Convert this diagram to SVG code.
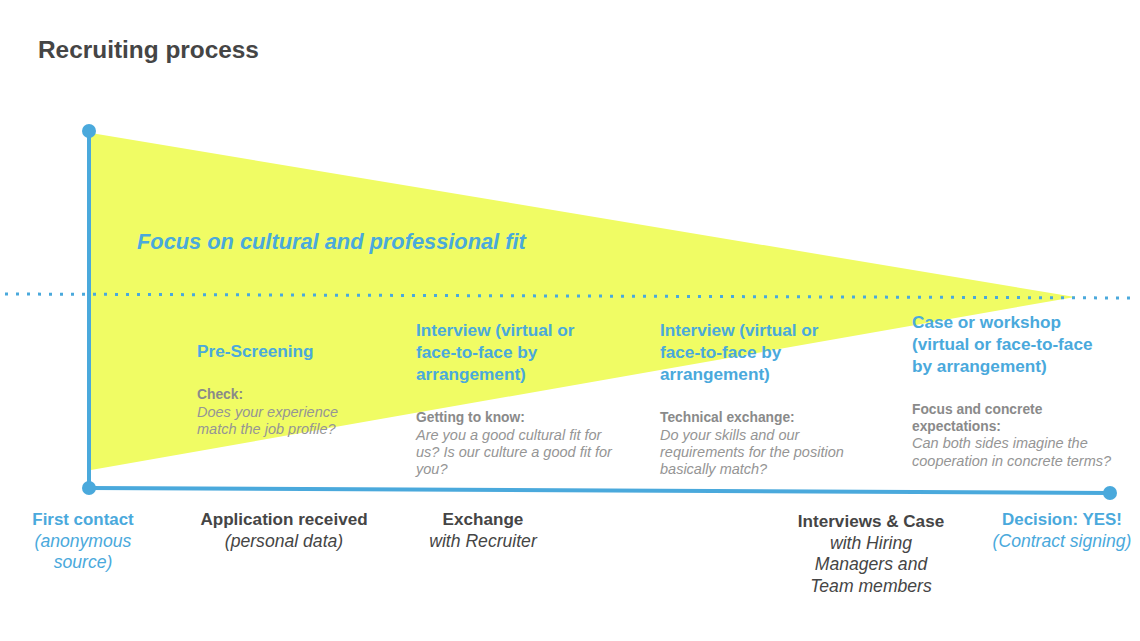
<svg xmlns="http://www.w3.org/2000/svg" width="1140" height="641" viewBox="0 0 1140 641">
<style>
text{font-family:"Liberation Sans",Arial,sans-serif}
.title{font-size:24.4px;font-weight:bold;fill:#454545}
.focus{font-size:21.8px;font-weight:bold;font-style:italic;fill:#4aa9dc}
.h{font-size:17.2px;font-weight:bold;fill:#4aa9dc}
.sb{font-size:13.8px;font-weight:bold;fill:#8a8a8a}
.si{font-size:14.5px;font-style:italic;fill:#959595}
.lb{font-size:16.9px;font-weight:bold;fill:#4aa9dc;text-anchor:middle}
.li{font-size:17.6px;font-style:italic;fill:#4aa9dc;text-anchor:middle}
.db{font-size:17.1px;font-weight:bold;fill:#454545;text-anchor:middle}
.di{font-size:17.6px;font-style:italic;fill:#454545;text-anchor:middle}
.ln{stroke:#4aa9dc;stroke-width:4;fill:none;stroke-linecap:round}
.dot{fill:#4aa9dc}
</style>
<rect width="1140" height="641" fill="#fff"/>
<text class="title" x="38" y="58">Recruiting process</text>
<polygon points="91,133 1075,297 91,470" fill="#f0fc64"/>
<g id="connectors">
<line class="ln" x1="89" y1="131" x2="89" y2="488"/>
<line class="ln" x1="89" y1="488" x2="1110" y2="493"/>
<line x1="5" y1="294" x2="1132" y2="298" stroke="#4aa9dc" stroke-width="3" stroke-dasharray="3 8"/>
</g>
<g id="n-top"><circle class="dot" cx="89" cy="131" r="7"/></g>
<g id="n-start"><circle class="dot" cx="89" cy="488" r="7"/></g>
<g id="n-end"><circle class="dot" cx="1110" cy="493" r="7"/></g>
<g id="focus"><text class="focus" x="137" y="249">Focus on cultural and professional fit</text></g>
<g id="prescreening">
<text class="h" x="197" y="357">Pre-Screening</text>
<text class="sb" x="197" y="399">Check:</text>
<text class="si" x="197" y="417">Does your experience</text>
<text class="si" x="197" y="434">match the job profile?</text>
</g>
<g id="interview1">
<text class="h" x="416" y="336">Interview (virtual or</text>
<text class="h" x="416" y="358">face-to-face by</text>
<text class="h" x="416" y="380">arrangement)</text>
<text class="sb" x="416" y="422">Getting to know:</text>
<text class="si" x="416" y="440">Are you a good cultural fit for</text>
<text class="si" x="416" y="457">us? Is our culture a good fit for</text>
<text class="si" x="416" y="474">you?</text>
</g>
<g id="interview2">
<text class="h" x="660" y="336">Interview (virtual or</text>
<text class="h" x="660" y="358">face-to-face by</text>
<text class="h" x="660" y="380">arrangement)</text>
<text class="sb" x="660" y="422">Technical exchange:</text>
<text class="si" x="660" y="440">Do your skills and our</text>
<text class="si" x="660" y="457">requirements for the position</text>
<text class="si" x="660" y="474">basically match?</text>
</g>
<g id="case">
<text class="h" x="912" y="328">Case or workshop</text>
<text class="h" x="912" y="350">(virtual or face-to-face</text>
<text class="h" x="912" y="372">by arrangement)</text>
<text class="sb" x="912" y="414">Focus and concrete</text>
<text class="sb" x="912" y="431">expectations:</text>
<text class="si" x="912" y="448">Can both sides imagine the</text>
<text class="si" x="912" y="466">cooperation in concrete terms?</text>
</g>
<g id="first-contact">
<text class="lb" x="83" y="525">First contact</text>
<text class="li" x="83" y="547">(anonymous</text>
<text class="li" x="83" y="568">source)</text>
</g>
<g id="application">
<text class="db" x="284" y="525">Application received</text>
<text class="di" x="284" y="547">(personal data)</text>
</g>
<g id="exchange">
<text class="db" x="483" y="525">Exchange</text>
<text class="di" x="483" y="547">with Recruiter</text>
</g>
<g id="interviews-case">
<text class="db" x="871" y="527">Interviews &amp; Case</text>
<text class="di" x="871" y="549">with Hiring</text>
<text class="di" x="871" y="570">Managers and</text>
<text class="di" x="871" y="592">Team members</text>
</g>
<g id="decision">
<text class="lb" x="1062" y="525">Decision: YES!</text>
<text class="li" x="1062" y="547">(Contract signing)</text>
</g>
</svg>
